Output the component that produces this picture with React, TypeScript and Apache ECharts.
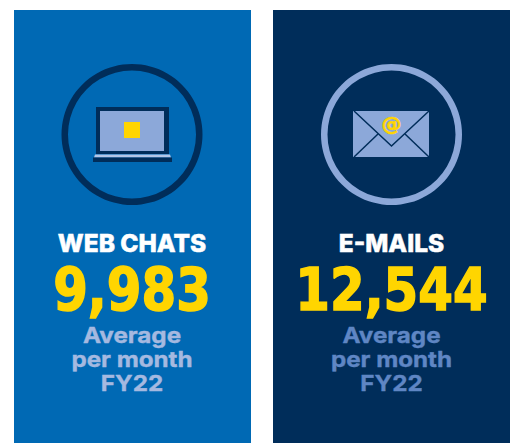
import React, { useEffect, useRef } from "react";
import * as echarts from "echarts";

const titles = ["WEB CHATS", "E-MAILS"];
const values = ["9,983", "12,544"];
const captionLines = ["Average", "per month", "FY22"];
const panelColors = ["#0069B4", "#002D5A"];
const captionColors = ["#A5B9E0", "#5F86C4"];
const NAVY = "#002D5A";
const LIGHT = "#8CA8D9";
const YELLOW = "#FFD500";
const UI = "Inter, sans-serif";

function panel(i: number, x: number, cx: number): any[] {
  const ringColor = i === 0 ? NAVY : LIGHT;
  return [
    { type: "rect", shape: { x, y: 10, width: 237, height: 433 }, style: { fill: panelColors[i] } },
    { type: "ring", shape: { cx, cy: 134.5, r: 70.5, r0: 64 }, style: { fill: ringColor } },
    { type: "text", x: cx, y: 244, scaleX: 1.02, style: { x: 0, y: 0, text: titles[i], fill: "#FFFFFF", stroke: "#FFFFFF", lineWidth: 0.5, font: `800 24px ${UI}`, align: "center", verticalAlign: "middle" } },
    { type: "text", x: cx, y: 290, scaleX: 0.86, style: { x: 0, y: 0, text: values[i], fill: YELLOW, stroke: YELLOW, lineWidth: 1.6, font: "bold 58px 'DejaVu Sans'", align: "center", verticalAlign: "middle" } },
    {
      type: "text",
      x: cx,
      y: 359,
      scaleX: 1.1,
      style: { x: 0, y: 0, text: captionLines.join("\n"), fill: captionColors[i], stroke: captionColors[i], lineWidth: 0.4, font: `700 22px ${UI}`, lineHeight: 24, align: "center", verticalAlign: "middle" },
    },
  ];
}

const laptop: any[] = [
  { type: "rect", shape: { x: 96, y: 107, width: 73, height: 47 }, style: { fill: NAVY } },
  { type: "rect", shape: { x: 100, y: 111, width: 64, height: 40 }, style: { fill: LIGHT } },
  { type: "rect", shape: { x: 124, y: 122, width: 16, height: 16 }, style: { fill: YELLOW } },
  { type: "polygon", shape: { points: [[95, 154.5], [170, 154.5], [171, 157.5], [94, 157.5]] }, style: { fill: "#B4C6E7" } },
  { type: "rect", shape: { x: 93, y: 157.5, width: 79, height: 4.5 }, style: { fill: NAVY } },
];

const envLine = { stroke: NAVY, lineWidth: 1.5, fill: "none" };
const envelope: any[] = [
  { type: "rect", shape: { x: 353, y: 111, width: 76, height: 46 }, style: { fill: LIGHT } },
  { type: "polyline", shape: { points: [[354, 111], [391.5, 146], [429, 111]] }, style: envLine },
  { type: "line", shape: { x1: 354, y1: 157, x2: 378, y2: 134 }, style: envLine },
  { type: "line", shape: { x1: 429, y1: 157, x2: 405, y2: 134 }, style: envLine },
  { type: "text", style: { x: 391.5, y: 124, text: "@", fill: YELLOW, stroke: YELLOW, lineWidth: 0.6, font: "bold 20px 'DejaVu Sans'", align: "center", verticalAlign: "middle" } },
];

export default function App() {
  const ref = useRef<HTMLDivElement>(null);
  useEffect(() => {
    document.body.style.margin = "0";
    document.body.style.background = "#fff";
    const chart = echarts.init(ref.current!, null, { renderer: "svg" });
    chart.setOption({
      animation: false,
      backgroundColor: "#FFFFFF",
      graphic: { elements: [...panel(0, 14, 132), ...panel(1, 273, 391.5), ...laptop, ...envelope] },
    });
    return () => chart.dispose();
  }, []);
  return <div ref={ref} style={{ width: 517, height: 443 }} />;
}
